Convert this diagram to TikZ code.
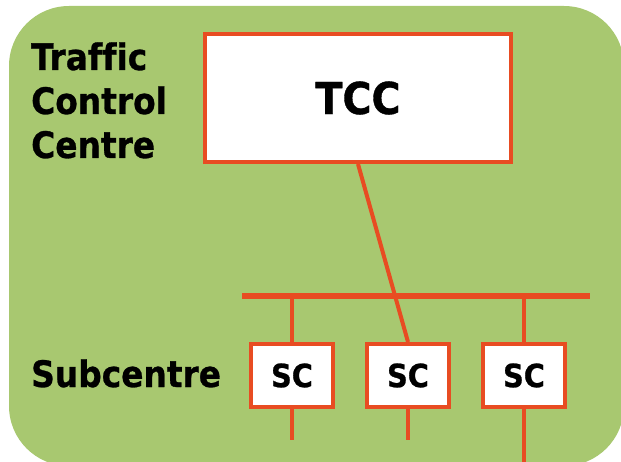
\documentclass[tikz,border=0pt]{standalone}
\usepackage{fontspec}
\setmainfont[Ligatures=NoCommon, BoldFeatures={FakeBold=0.8}]{DejaVu Sans Condensed}
\definecolor{panelgreen}{HTML}{A8C870}
\definecolor{linkred}{HTML}{E84C22}
\tikzset{
  unitbox/.style={draw=linkred, line width=4pt, fill=white, inner sep=0pt,
    font=\bfseries},
  link/.style={draw=linkred, line width=4pt},
  bus/.style={draw=linkred, line width=6pt},
  caption/.style={inner sep=0pt, font=\bfseries\fontsize{36.5}{44}\selectfont,
    align=left}
}
\begin{document}
\begin{tikzpicture}[x=1pt, y=-1pt]
  \useasboundingbox (0,0) rectangle (621,462);
  % background panel
  \fill[panelgreen, rounded corners=60pt] (9,6) rectangle (624,466);

  % control centre and subcentres
  \node[unitbox, minimum width=306pt, minimum height=128pt,
        font=\bfseries\fontsize{44}{44}\selectfont] (tcc) at (358,98) {TCC};
  \node[unitbox, minimum width=82.5pt, minimum height=63pt,
        font=\bfseries\fontsize{32}{32}\selectfont] (sc1) at (292,375.5) {SC};
  \node[unitbox, minimum width=82.5pt, minimum height=63pt,
        font=\bfseries\fontsize{32}{32}\selectfont] (sc2) at (408,375.5) {SC};
  \node[unitbox, minimum width=82.5pt, minimum height=63pt,
        font=\bfseries\fontsize{32}{32}\selectfont] (sc3) at (524,375.5) {SC};

  % level labels (base anchor sits on the last line)
  \node[caption, anchor=base west] (lbltcc) at (31,158) {Traffic\\Control\\Centre};
  \node[caption, anchor=base west] (lblsc) at (31,387) {Subcentre};

  % shared bus
  \coordinate (busl) at (242,296);
  \coordinate (busr) at (590,296);
  \draw[bus] (busl) -- (busr);

  % links
  \draw[link] (sc1.north |- busl) -- (sc1.north);
  \draw[link] (sc3.north |- busl) -- (sc3.north);
  \draw[link] (tcc.south) -- (sc2.north);

  % outgoing stubs
  \coordinate (out1) at (292,440);
  \coordinate (out2) at (408,440);
  \coordinate (out3) at (524,462);
  \draw[link] (sc1.south) -- (out1);
  \draw[link] (sc2.south) -- (out2);
  \draw[link] (sc3.south) -- (out3);
\end{tikzpicture}
\end{document}
